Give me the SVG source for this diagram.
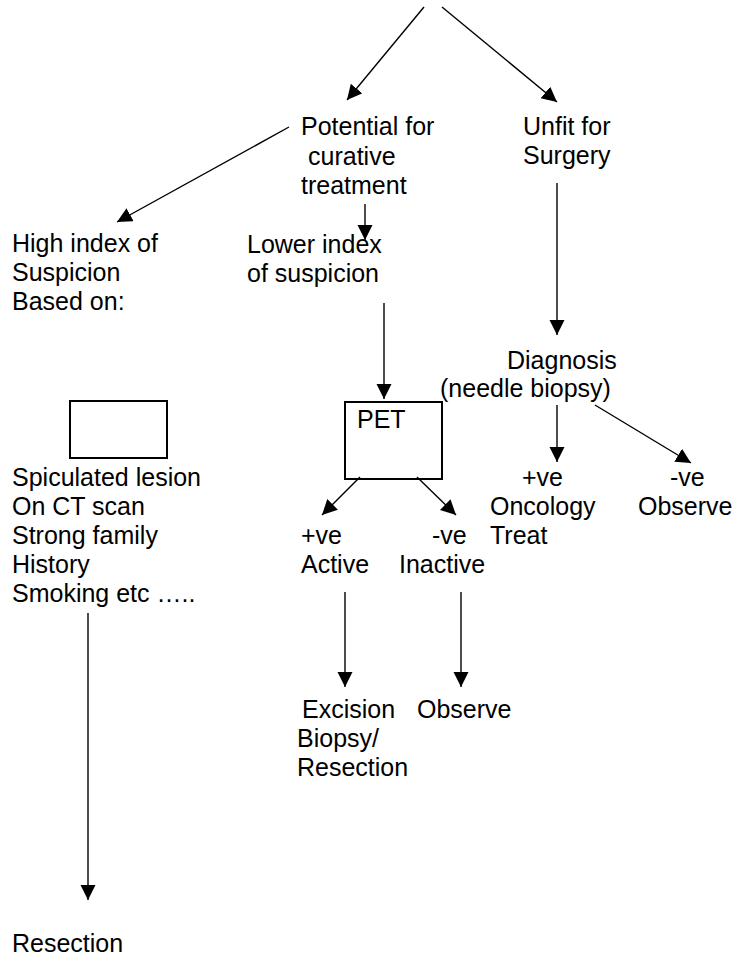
<svg xmlns="http://www.w3.org/2000/svg" width="734" height="958" viewBox="0 0 734 958">
<style>
text{font-family:"Liberation Sans",Arial,sans-serif;font-size:25px;fill:#000}
.c line{stroke:#000;stroke-width:1.4;marker-end:url(#ah)}
.box{fill:none;stroke:#000;stroke-width:2}
</style>
<defs>
<marker id="ah" markerUnits="userSpaceOnUse" markerWidth="16" markerHeight="16" refX="15" refY="7.5" orient="auto" viewBox="0 0 16 16">
<path d="M0,0 L15,7.5 L0,15 z" fill="#000"/>
</marker>
</defs>
<g id="connectors" class="c">
<line x1="424" y1="7" x2="347" y2="100"/>
<line x1="442" y1="7" x2="557" y2="102"/>
<line x1="289" y1="127" x2="117" y2="222"/>
<line x1="365" y1="204" x2="365" y2="240"/>
<line x1="557" y1="183" x2="557" y2="335"/>
<line x1="384" y1="303" x2="384" y2="399"/>
<line x1="557" y1="405" x2="557" y2="462"/>
<line x1="595" y1="405" x2="691" y2="463"/>
<line x1="360" y1="477" x2="322" y2="515"/>
<line x1="417" y1="477" x2="456" y2="515"/>
<line x1="345" y1="592" x2="345" y2="687"/>
<line x1="461" y1="592" x2="461" y2="687"/>
<line x1="88" y1="613" x2="88" y2="900"/>
</g>
<g id="potential"><text x="301" y="135">Potential for</text><text x="308" y="165">curative</text><text x="301" y="194">treatment</text></g>
<g id="unfit"><text x="523" y="135">Unfit for</text><text x="523" y="164">Surgery</text></g>
<g id="high"><text x="12" y="252">High index of</text><text x="12" y="281">Suspicion</text><text x="12" y="310">Based on:</text></g>
<g id="lower"><text x="247" y="253">Lower index</text><text x="247" y="282">of suspicion</text></g>
<g id="diagnosis"><text x="507" y="369">Diagnosis</text><text x="440" y="397">(needle biopsy)</text></g>
<g id="pet"><rect class="box" x="345" y="402" width="97" height="77"/><text x="357" y="428">PET</text></g>
<g id="emptybox"><rect class="box" x="70" y="401" width="97" height="57"/></g>
<g id="criteria"><text x="12" y="486">Spiculated lesion</text><text x="12" y="515">On CT scan</text><text x="12" y="544">Strong family</text><text x="12" y="573">History</text><text x="12" y="602">Smoking etc …..</text></g>
<g id="active"><text x="301" y="544">+ve</text><text x="301" y="573">Active</text></g>
<g id="inactive"><text x="432" y="544">-ve</text><text x="399" y="573">Inactive</text></g>
<g id="oncology"><text x="522" y="486">+ve</text><text x="490" y="515">Oncology</text><text x="490" y="544">Treat</text></g>
<g id="observe1"><text x="670" y="486">-ve</text><text x="638" y="515">Observe</text></g>
<g id="excision"><text x="302" y="718">Excision</text><text x="297" y="747">Biopsy/</text><text x="297" y="776">Resection</text></g>
<g id="observe2"><text x="417" y="718">Observe</text></g>
<g id="resection"><text x="12" y="952">Resection</text></g>
</svg>
